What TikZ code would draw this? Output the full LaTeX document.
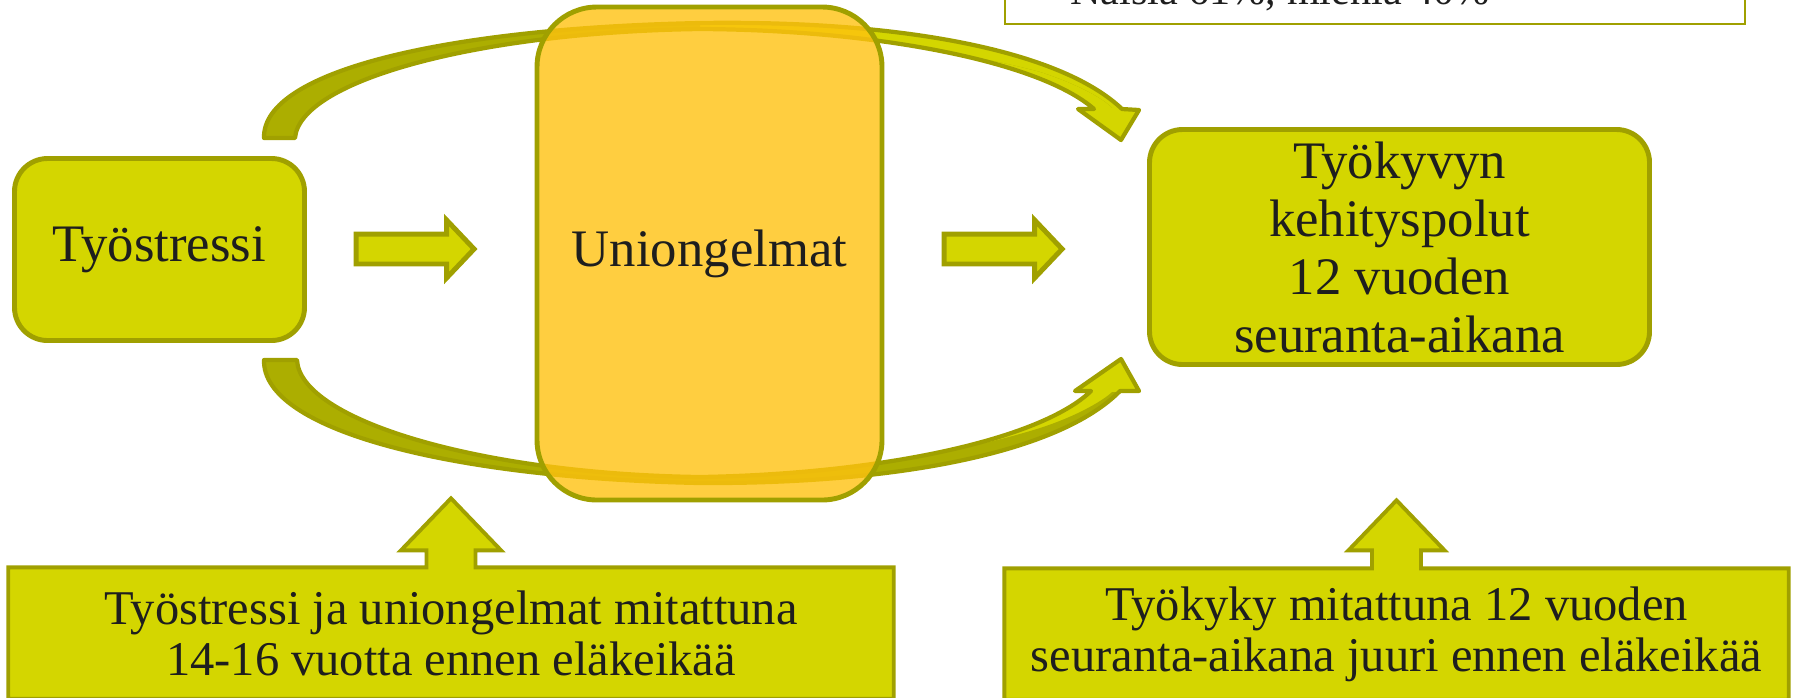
\documentclass[tikz,border=0pt]{standalone}
\usepackage{fontspec}
\setmainfont{Liberation Serif}
\usetikzlibrary{shapes.arrows,calc,backgrounds}
\definecolor{limefill}{RGB}{212,214,0}
\definecolor{olivedge}{RGB}{160,160,0}
\definecolor{ribbondark}{RGB}{172,174,0}
\definecolor{sleepfill}{RGB}{255,194,16}
\definecolor{inkgray}{RGB}{30,30,30}
\tikzset{
  box/.style={draw=olivedge,fill=limefill,line width=1.4pt,rounded corners=3.3mm,
    align=center,text=inkgray,inner sep=2pt,font=\fontsize{15}{16.5}\selectfont},
  sleepbox/.style={box,fill=sleepfill,fill opacity=0.8,text opacity=1,rounded corners=6mm},
  blockarr/.style={single arrow,draw=olivedge,fill=limefill,line width=1.4pt,
    inner sep=0pt,inner ysep=1.25mm,minimum height=11.8mm,
    single arrow head extend=1.4mm,single arrow tip angle=93},
  note/.style={align=center,text=inkgray,font=\fontsize{13.8}{14.5}\selectfont},
  notebox/.style={draw=olivedge,fill=limefill,line width=1.1pt},
  topbox/.style={draw=olivedge,fill=white,line width=0.8pt},
  ribbon/.style={draw=olivedge,fill=limefill,line width=1.2pt,line join=round}
}

\begin{document}
\begin{tikzpicture}[x=0.1mm,y=-0.1mm]
\useasboundingbox (0,0) rectangle (1795,697);

\node[topbox,minimum width=74mm,minimum height=10mm] (groupbox) at (1375,-26) {};
\node[anchor=base,text=inkgray,font=\fontsize{12}{14}\selectfont] (groupline) at (1280,4)
  {Naisia 61\%, miehiä 40\%};

\node[box,minimum width=29mm,minimum height=18.2mm] (stress) at (159.5,249.5) {Työstressi};
\node[sleepbox,minimum width=34.5mm,minimum height=49.3mm] (sleep) at (709.5,253.5) {Uniongelmat};
\node[box,minimum width=50mm,minimum height=23.5mm] (workability) at (1399.5,247)
  {Työkyvyn\\kehityspolut\\12 vuoden\\seuranta-aikana};

\node[blockarr] (arrA) at (408,249) {};
\node[blockarr] (arrB) at (996,249) {};

\node[note,minimum width=88.4mm,minimum height=13mm] (stressnote) at (451,633)
  {Työstressi ja uniongelmat mitattuna\\14-16 vuotta ennen eläkeikää};
\node[note,minimum width=78.3mm,minimum height=13mm] (worknote) at (1396.5,634)
  {Työkyky mitattuna 12 vuoden\\seuranta-aikana juuri ennen eläkeikää};

\begin{scope}[on background layer]
% curved arrows over and under the middle box
\path[ribbon,path picture={\fill[ribbondark] (0,-100) -- (700,-100) -- (700,35)
    .. controls (850,38) and (950,48) .. (1040,72)
    .. controls (1080,85) and (1105,100) .. (1112,108) -- (1300,108) -- (1300,-100)
    -- (1300,800) -- (0,800) -- cycle;
    \fill[limefill] (700,35) .. controls (850,38) and (950,48) .. (1040,72)
    .. controls (1080,85) and (1105,100) .. (1112,108) -- (1300,108) -- (1300,800)
    -- (700,800) -- cycle;}]
  (264,138) .. controls (262,70) and (450,28) .. (700,23)
  .. controls (900,20) and (1060,50) .. (1122,109)
  -- (1139,110) -- (1121,140) -- (1078,109) -- (1094,109)
  .. controls (1040,62) and (880,30) .. (700,29)
  .. controls (480,32) and (300,80) .. (295,138) -- cycle;
\path[ribbon,path picture={\fill[ribbondark] (0,0) -- (700,0) -- (700,800)
    -- (0,800) -- cycle;
    \fill[ribbondark] (700,472) .. controls (850,469) and (950,456) .. (1040,428)
    .. controls (1080,415) and (1105,399) .. (1112,392) -- (1300,392) -- (1300,800)
    -- (700,800) -- cycle;}]
  (264,360) .. controls (262,430) and (450,478) .. (700,483)
  .. controls (900,484) and (1060,452) .. (1120,391)
  -- (1139,391) -- (1121,359) -- (1075,391) -- (1091,391)
  .. controls (1040,440) and (880,474) .. (700,477)
  .. controls (480,474) and (300,420) .. (297,360) -- cycle;

% notes with their arrows
\filldraw[notebox] (stressnote.south west) -- (stressnote.north west)
  -- ($(stressnote.north)+(-24.5,0)$) -- ++(0,-17) -- ++(-25.5,0)
  -- ($(stressnote.north)+(0,-69)$) -- ($(stressnote.north)+(50,-17)$)
  -- ++(-25.5,0) -- ++(0,17) -- (stressnote.north east)
  -- (stressnote.south east) -- cycle;
\filldraw[notebox] (worknote.south west) -- (worknote.north west)
  -- ($(worknote.north)+(-24.5,0)$) -- ++(0,-18) -- ++(-23.5,0)
  -- ($(worknote.north)+(0,-68)$) -- ($(worknote.north)+(48,-18)$)
  -- ++(-23.5,0) -- ++(0,18) -- (worknote.north east)
  -- (worknote.south east) -- cycle;
\end{scope}

\end{tikzpicture}
\end{document}
